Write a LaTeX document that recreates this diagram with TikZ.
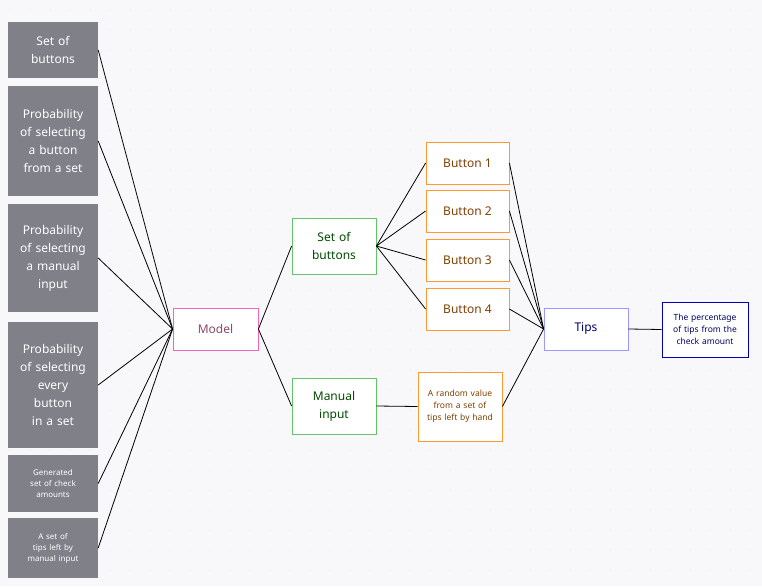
\documentclass[tikz,border=0pt]{standalone}
\usepackage{fontspec}
\setmainfont{Noto Sans}
\usetikzlibrary{positioning}
\definecolor{bggrey}{HTML}{F8F8FA}
\definecolor{boxgrey}{HTML}{808089}
\tikzset{
  src/.style={rectangle, fill=boxgrey, text=white, minimum width=90pt, text width=66pt, align=center, font=\fontsize{12}{18}\selectfont},
  small/.style={src, text width=58pt, font=\fontsize{8}{11}\selectfont},
  box/.style={rectangle, fill=white, minimum width=84pt, minimum height=42pt, align=center, font=\fontsize{12}{18}\selectfont, line width=0.8pt},
  link/.style={black, line width=0.8pt}
}
\begin{document}
\begin{tikzpicture}[x=1pt, y=-1pt]
  \fill[bggrey] (0,0) rectangle (762,586);
  \useasboundingbox (0,0) rectangle (762,586);
  \foreach \i in {0,...,37} \foreach \j in {0,...,28}
    \fill[black!12] (10+20*\i,10+20*\j) circle (0.5pt);

  % inputs
  \node[src, minimum height=56pt] (sb) at (53,50) {Set of buttons};
  \node[src, minimum height=110pt] (pb) at (53,141) {Probability of selecting a button from a set};
  \node[src, minimum height=108pt] (pm) at (53,258) {Probability of selecting a manual input};
  \node[src, minimum height=126pt] (pe) at (53,385) {Probability of selecting every button in a set};
  \node[small, minimum height=57pt] (gs) at (53,483.5) {Generated set of check amounts};
  \node[small, minimum height=60pt] (ts) at (53,548) {A set of tips left by manual input};

  % middle
  \node[box, draw=magenta!60, text=magenta!50!black, minimum width=85pt] (model) at (215.5,329) {Model};
  \node[box, draw=green!60!black!60, text=green!30!black, minimum height=56pt, text width=60pt] (set) at (334,246) {Set of buttons};
  \node[box, draw=green!60!black!60, text=green!30!black, minimum height=56pt, text width=60pt] (manual) at (334,406) {Manual input};
  \foreach \k/\y in {1/163,2/211,3/260,4/309}
    \node[box, draw=orange!80, text=orange!50!black, minimum width=83pt] (btn\k) at (467.5,\y) {Button \k};
  \node[box, draw=orange!80, text=orange!50!black, minimum height=69pt, text width=66pt, font=\fontsize{8.5}{12}\selectfont] (rand) at (460,406.5) {A random value from a set of tips left by hand};
  \node[box, draw=blue!40, text=blue!40!black] (tips) at (586,329) {Tips};
  \node[box, draw=blue!70!black, text=blue!40!black, minimum width=86pt, minimum height=55pt, text width=76pt, font=\fontsize{8.5}{12}\selectfont] (pct) at (705,329.5) {The percentage of tips from the check amount};

  % links
  \foreach \n in {sb,pb,pm,pe,gs,ts}
    \draw[link] (\n.east) -- (model.west);
  \draw[link] (model.east) -- (set.west);
  \draw[link] (model.east) -- (manual.west);
  \foreach \k in {1,...,4} {
    \draw[link] (set.east) -- (btn\k.west);
    \draw[link] (btn\k.east) -- (tips.west);
  }
  \draw[link] (manual.east) -- (rand.west);
  \draw[link] (rand.east) -- (tips.west);
  \draw[link] (tips.east) -- (pct.west);
\end{tikzpicture}
\end{document}
